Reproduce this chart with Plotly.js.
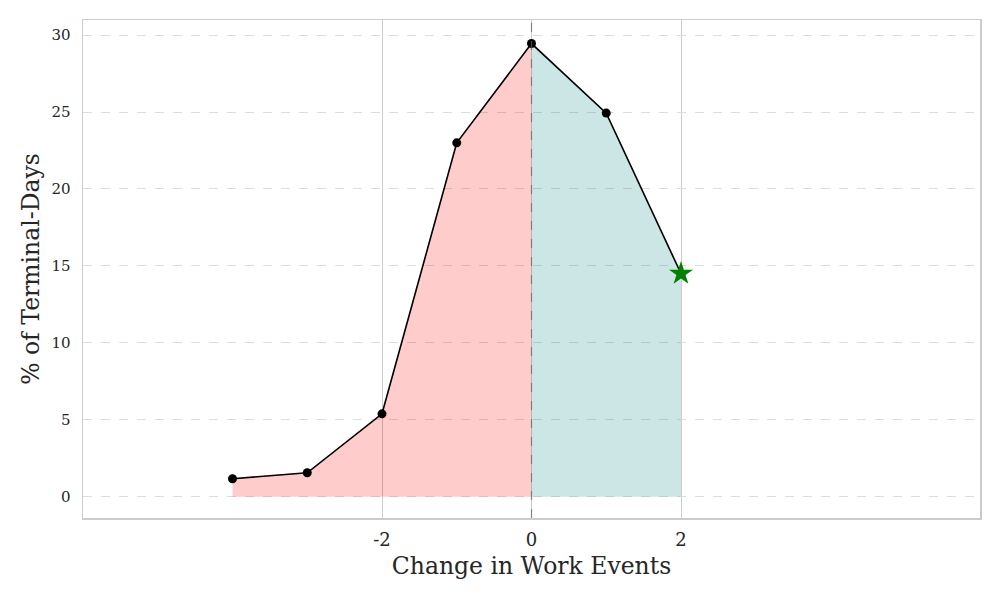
<!DOCTYPE html>
<html>
<head>
<meta charset="utf-8">
<script src="https://cdn.plot.ly/plotly-3.0.1.min.js"></script>
<style>html,body{margin:0;padding:0;background:#fff;}#chart{width:1000px;height:600px;}</style>
</head>
<body>
<div id="chart"></div>
<script>
const changes = [-4, -3, -2, -1, 0, 1, 2];
const pctDays = [1.17, 1.56, 5.39, 23.0, 29.45, 24.93, 14.5];
const highlightX = [2];
const highlightY = [14.5];
const xTickVals = [-2, 0, 2];
const xTickText = ['-2', '0', '2'];
const yTickVals = [0, 5, 10, 15, 20, 25, 30];

const negX = [], negY = [], posX = [], posY = [];
changes.forEach((c, i) => {
  if (c <= 0) { negX.push(c); negY.push(pctDays[i]); }
  if (c >= 0) { posX.push(c); posY.push(pctDays[i]); }
});
const lineX = changes.slice(0, changes.length - 1);
const lineY = pctDays.slice(0, pctDays.length - 1);

const font = 'DejaVu Serif, Liberation Serif, serif';
const data = [
  {x: negX, y: negY, type: 'scatter', mode: 'lines', fill: 'tozeroy',
   fillcolor: 'rgba(255,0,0,0.2)', line: {color: 'rgba(255,0,0,0.2)', width: 1}, hoverinfo: 'skip'},
  {x: posX, y: posY, type: 'scatter', mode: 'lines', fill: 'tozeroy',
   fillcolor: 'rgba(0,128,128,0.2)', line: {color: 'rgba(0,128,128,0.2)', width: 1}, hoverinfo: 'skip'},
  {x: changes, y: pctDays, type: 'scatter', mode: 'lines',
   line: {color: '#000000', width: 1.6}},
  {x: lineX, y: lineY, type: 'scatter', mode: 'markers',
   marker: {color: '#000000', size: 9, symbol: 'circle'}},
  {x: highlightX, y: highlightY, type: 'scatter', mode: 'markers',
   marker: {color: '#008000', size: 18, symbol: 'star', line: {width: 0}}}
];

const layout = {
  width: 1000, height: 600,
  margin: {l: 83, r: 20, t: 20, b: 82},
  paper_bgcolor: '#ffffff', plot_bgcolor: '#ffffff',
  showlegend: false,
  font: {family: font, color: '#262626'},
  xaxis: {
    range: [-6, 6], tickvals: xTickVals, ticktext: xTickText,
    showgrid: true, gridcolor: '#cccccc', gridwidth: 1,
    zeroline: false, showline: true, linecolor: '#cccccc', linewidth: 1.5, mirror: true,
    ticks: '', tickfont: {size: 18, family: font, color: '#262626'}, ticklabelstandoff: 5,
    title: {text: 'Change in Work Events', font: {size: 23.5, family: font, color: '#262626'}, standoff: 8}
  },
  yaxis: {
    range: [-1.38, 30.98], tickvals: yTickVals,
    showgrid: true, gridcolor: '#dddddd', gridwidth: 1, griddash: 'dash',
    zeroline: false, showline: true, linecolor: '#cccccc', linewidth: 1.5, mirror: true,
    ticks: '', tickfont: {size: 15, family: font, color: '#262626'}, ticklabelstandoff: 8,
    title: {text: '% of Terminal-Days', font: {size: 23.5, family: font, color: '#262626'}, standoff: 5}
  },
  shapes: [
    {type: 'line', xref: 'x', yref: 'paper', x0: 0, x1: 0, y0: 0, y1: 1,
     line: {color: 'rgba(100,100,100,0.7)', width: 1.2, dash: 'dash'}, layer: 'above'}
  ]
};

Plotly.newPlot('chart', data, layout, {displayModeBar: false, staticPlot: true});
</script>
</body>
</html>
